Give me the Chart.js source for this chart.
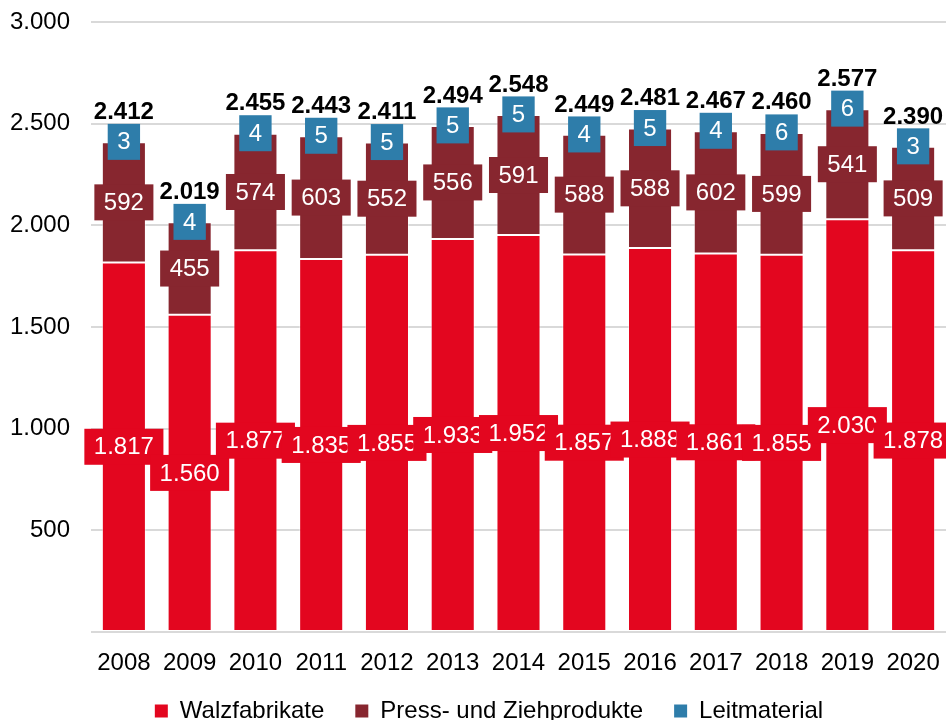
<!DOCTYPE html>
<html><head><meta charset="utf-8">
<script src="https://cdn.jsdelivr.net/npm/chart.js@4.4.0/dist/chart.umd.min.js"></script>
<style>html,body{margin:0;padding:0;background:#fff;}#wrap{width:946px;height:720px;}</style>
</head><body><div id="wrap"><canvas id="c" width="946" height="720"></canvas></div>
<script>
const years = ['2008','2009','2010','2011','2012','2013','2014','2015','2016','2017','2018','2019','2020'];
const walzfabrikate = [1817,1560,1877,1835,1855,1933,1952,1857,1888,1861,1855,2030,1878];
const pressZieh = [592,455,574,603,552,556,591,588,588,602,599,541,509];
const leitmaterial = [3,4,4,5,5,5,5,4,5,4,6,6,3];
const totals = [2412,2019,2455,2443,2411,2494,2548,2449,2481,2467,2460,2577,2390];
const yTicks = [0,500,1000,1500,2000,2500,3000];

const FONT = '"Liberation Sans", Arial, sans-serif';
const deNum = v => String(v).replace(/\B(?=(\d{3})+(?!\d))/g, '.');

const labelPlugin = {
  id: 'barLabels',
  afterDatasetsDraw(chart) {
    const ctx = chart.ctx;
    ctx.save();
    ctx.font = '24px ' + FONT;
    ctx.textAlign = 'center';
    ctx.textBaseline = 'middle';
    chart.data.datasets.forEach((ds, di) => {
      const meta = chart.getDatasetMeta(di);
      meta.data.forEach((bar, i) => {
        const txt = deNum(ds.data[i]);
        const w = ctx.measureText(txt).width + 19;
        const h = 36;
        const cy = (bar.y + bar.base) / 2;
        ctx.fillStyle = ds.backgroundColor;
        ctx.fillRect(bar.x - w / 2, cy - h / 2, w, h);
        ctx.fillStyle = '#ffffff';
        ctx.fillText(txt, bar.x, cy + 1);
      });
    });
    ctx.font = 'bold 24px ' + FONT;
    ctx.fillStyle = '#000000';
    const topMeta = chart.getDatasetMeta(chart.data.datasets.length - 1);
    topMeta.data.forEach((bar, i) => {
      ctx.fillText(deNum(totals[i]), bar.x, bar.y - 29);
    });
    ctx.restore();
  }
};

const legendShift = {
  id: 'legendShift',
  afterLayout(chart) {
    const lg = chart.legend;
    if (!lg) return;
    const dy = 698 - (lg.top + 31 + 12) + 13;
    lg.left += 16; lg.right += 16;
    lg.top += dy; lg.bottom += dy;
  }
};

const barStyle = {borderWidth: 1, borderColor: 'rgba(255,255,255,0.45)', borderSkipped: false};

new Chart(document.getElementById('c'), {
  type: 'bar',
  data: {
    labels: years,
    datasets: [
      Object.assign({label: 'Walzfabrikate', data: walzfabrikate, backgroundColor: '#E3061F'}, barStyle),
      Object.assign({label: 'Press- und Ziehprodukte', data: pressZieh, backgroundColor: '#87262F'}, barStyle),
      Object.assign({label: 'Leitmaterial', data: leitmaterial, backgroundColor: '#2E7DAA'}, barStyle)
    ]
  },
  options: {
    responsive: false,
    animation: false,
    devicePixelRatio: 1,
    layout: {padding: {top: 22, right: 0, left: 0, bottom: -18}},
    datasets: {bar: {categoryPercentage: 1, barPercentage: 0.67}},
    scales: {
      x: {
        stacked: true,
        grid: {display: false},
        border: {display: false},
        ticks: {color: '#000', font: {family: FONT, size: 24}, padding: 9, maxRotation: 0, autoSkip: false},
        afterFit(s) { s.paddingLeft = 0; s.paddingRight = 0; s.height = 41; }
      },
      y: {
        stacked: true,
        min: 0, max: 3000,
        afterBuildTicks(s) { s.ticks = yTicks.map(v => ({value: v})); },
        grid: {color: '#d9d9d9', lineWidth: 2, drawTicks: false},
        border: {display: false},
        ticks: {color: '#000', font: {family: FONT, size: 24}, padding: 21,
          callback: v => v === 0 ? '' : deNum(v)},
        afterFit(s) { s.width = 91; s.paddingTop = 0; s.paddingBottom = 0; }
      }
    },
    plugins: {
      tooltip: {enabled: false},
      legend: {
        position: 'bottom',
        labels: {
          color: '#000',
          font: {family: FONT, size: 24},
          boxWidth: 13, boxHeight: 13, padding: 31,
          generateLabels(chart) {
            const items = Chart.defaults.plugins.legend.labels.generateLabels(chart);
            items.forEach(it => { it.lineWidth = 0; it.strokeStyle = it.fillStyle; });
            return items;
          }
        }
      }
    }
  },
  plugins: [labelPlugin, legendShift]
});
</script>
</body></html>
